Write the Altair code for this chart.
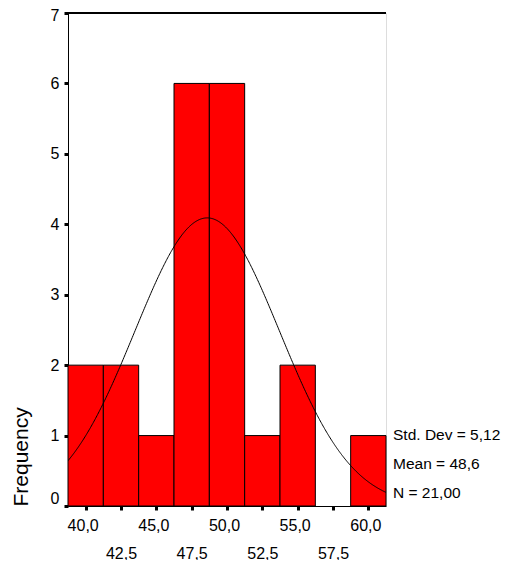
import altair as alt
import pandas as pd

# Histogram bins (centres) and frequencies
bin_centers = [40.0, 42.5, 45.0, 47.5, 50.0, 52.5, 55.0, 57.5, 60.0]
frequencies = [2, 2, 1, 6, 6, 1, 2, 0, 1]
bin_width = 2.5

# Summary statistics printed on the chart
std_dev = 5.12
mean = 48.6
n_obs = 21
stat_labels = ["Std. Dev = 5,12", "Mean = 48,6", "N = 21,00"]
stat_y = [0.937, 0.525, 0.114]

x_ticks_row1 = [40.0, 45.0, 50.0, 55.0, 60.0]
x_ticks_row2 = [42.5, 47.5, 52.5, 57.5]
y_ticks = [0, 1, 2, 3, 4, 5, 6, 7]

x_min = bin_centers[0] - bin_width / 2
x_max = bin_centers[-1] + bin_width / 2

W, H = 318, 493
FONT = "Liberation Sans"

hist_df = pd.DataFrame({"center": bin_centers, "count": frequencies})
stats_df = pd.DataFrame({"label": stat_labels, "y": stat_y})

xscale = alt.Scale(domain=[x_min, x_max], nice=False, zero=False)
yscale = alt.Scale(domain=[0, 7], nice=False)

lab = "replace(format(datum.value, '.1f'), '.', ',')"


def x_axis(values, pad, offset, domain):
    return alt.Axis(
        orient="bottom",
        values=values,
        title=None,
        grid=False,
        domain=domain,
        domainColor="black",
        tickColor="black",
        tickSize=4,
        tickWidth=3,
        labelFont=FONT,
        labelFontSize=16,
        labelColor="black",
        labelBaseline="top",
        labelPadding=pad,
        labelOffset=offset,
        labelExpr=lab,
        labelOverlap=False,
    )


axis_row1 = x_axis(x_ticks_row1, 7, -3, True)
axis_row2 = x_axis(x_ticks_row2, 35, 0, False)

y_axis = alt.Axis(
    values=y_ticks,
    title="Frequency",
    titleFont=FONT,
    titleFontSize=21,
    titleFontWeight="normal",
    titleColor="black",
    titleAnchor="start",
    titlePadding=19,
    grid=False,
    domainColor="black",
    tickColor="black",
    tickSize=4,
    tickWidth=3,
    labelFont=FONT,
    labelFontSize=16,
    labelColor="black",
    labelPadding=5,
    labelOverlap=False,
    labelBaseline={"condition": {"test": "datum.value == 0", "value": "bottom"}, "value": "middle"},
    labelOffset={"condition": {"test": "datum.value == 7", "value": 2}, "value": 0},
    format="d",
)

bars = (
    alt.Chart(hist_df)
    .transform_filter("datum.count > 0")
    .transform_calculate(
        x0=f"datum.center - {bin_width / 2}",
        x1=f"datum.center + {bin_width / 2}",
    )
    .mark_rect(color="#FF0000", stroke="black", strokeWidth=1)
    .encode(
        x=alt.X("x0:Q", scale=xscale, axis=axis_row1),
        x2="x1:Q",
        y=alt.Y("count:Q", scale=yscale, axis=y_axis),
        y2=alt.datum(0),
    )
)

row2 = (
    alt.Chart(hist_df)
    .mark_point(opacity=0)
    .encode(x=alt.X("center:Q", scale=xscale, axis=axis_row2))
)

curve = (
    alt.Chart(alt.sequence(x_min, x_max + 0.01, 0.05, as_="v"))
    .transform_calculate(
        dens=f"{n_obs} * {bin_width} * exp(-0.5 * pow((datum.v - {mean}) / {std_dev}, 2)) / ({std_dev} * sqrt(2 * PI))"
    )
    .mark_line(color="black", strokeWidth=1, clip=True)
    .encode(
        x=alt.X("v:Q", scale=xscale, axis=None),
        y=alt.Y("dens:Q", scale=yscale),
    )
)

top_rule = (
    alt.Chart(hist_df)
    .mark_rule(color="black", strokeWidth=1)
    .encode(x=alt.value(0), x2=alt.value(W), y=alt.value(0))
)

stats = (
    alt.Chart(stats_df)
    .mark_text(align="left", baseline="alphabetic", font=FONT, fontSize=15.5, color="black", dx=7)
    .encode(x=alt.value(W), y=alt.Y("y:Q", scale=yscale), text="label:N")
)

chart = (
    alt.layer(bars, row2, curve, top_rule, stats)
    .resolve_axis(x="independent")
    .properties(
        width=W,
        height=H,
        autosize=alt.AutoSizeParams(type="none"),
        padding={"left": 60, "top": 5, "right": 115, "bottom": 54},
    )
    .configure_view(stroke="#666", strokeWidth=1)
    .configure(background="white")
)

chart.save("out.html", embed_options={"renderer": "svg", "actions": False})
